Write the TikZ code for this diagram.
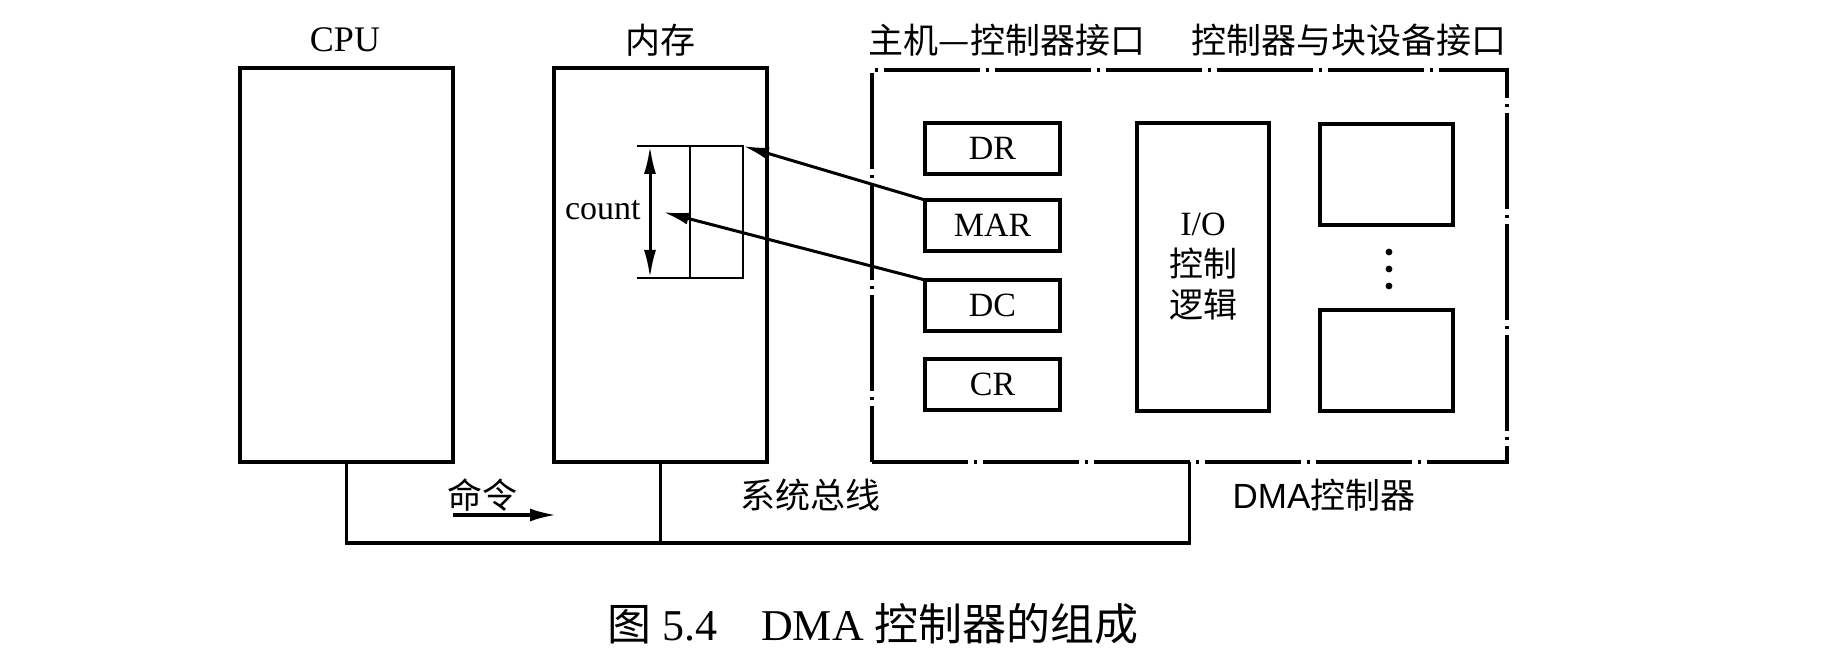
\documentclass[tikz,border=0pt]{standalone}
\usepackage{fontspec}
\setmainfont{Liberation Serif}
\newfontfamily\cjk{Noto Sans CJK SC}
\newfontfamily\sansf{Liberation Sans}
\usetikzlibrary{arrows.meta}
\begin{document}
\begin{tikzpicture}[x=0.5pt,y=-0.5pt,
  bigbox/.style={draw, line width=2.2pt, inner sep=0pt, outer sep=0pt},
  regbox/.style={draw, line width=1.9pt, inner sep=0pt, outer sep=0pt, minimum width=67.5pt, minimum height=25.5pt, font=\fontsize{17}{20}\selectfont},
  dmabox/.style={draw, line width=1.6pt, inner sep=0pt, outer sep=0pt, dash pattern=on 48pt off 3pt on 1.5pt off 3pt},
  lbl/.style={inner sep=0pt, font=\fontsize{17.5}{21}\selectfont},
  busline/.style={line width=1.6pt},
  thin/.style={line width=1.4pt},
  arr/.style={line width=1.5pt, -{Latex[length=13pt,width=6pt]}},
  darr/.style={line width=1.5pt, {Latex[length=14pt,width=6pt]}-{Latex[length=14pt,width=6pt]}},
  cmdarr/.style={line width=1.6pt, -{Latex[length=13pt,width=6.5pt]}}
]
\useasboundingbox (0,0) rectangle (1822,656);

% main boxes
\node[bigbox, minimum width=106.5pt, minimum height=197pt] (cpu) at (346.5,265) {};
\node[bigbox, minimum width=106.5pt, minimum height=197pt] (mem) at (660.5,265) {};
\node[dmabox, minimum width=317.5pt, minimum height=196pt] (dma) at (1189.5,266) {};

% top labels
\node[lbl, font=\fontsize{18}{21}\selectfont] (cpulbl) at (345,40) {CPU};
\node[lbl] (memlbl) at (660,40) {\cjk 内存};
\node[lbl] (hostif) at (1007,40) {\cjk 主机—控制器接口};
\node[lbl] (devif) at (1349,40) {\cjk 控制器与块设备接口};

% registers
\node[regbox] (dr)  at (992.5,148.5) {DR};
\node[regbox] (mar) at (992.5,225.5) {MAR};
\node[regbox] (dc)  at (992.5,305.5) {DC};
\node[regbox] (cr)  at (992.5,384.5) {CR};

% I/O control logic
\node[regbox, minimum width=66pt, minimum height=144pt, align=center,
      font=\fontsize{17}{20.5}\selectfont] (io) at (1203,267) {I/O\\{\cjk 控制}\\{\cjk 逻辑}};

% device boxes
\node[regbox, minimum width=66.5pt, minimum height=50.5pt] (dev1) at (1386.5,174.5) {};
\node[regbox, minimum width=66.5pt, minimum height=50.5pt] (dev2) at (1386.5,360.5) {};
\fill (1389,252) circle (1.7pt) (1389,269) circle (1.7pt) (1389,286) circle (1.7pt);

% memory cell with count
\node[draw, thin, inner sep=0pt, outer sep=0pt, minimum width=26.5pt, minimum height=66pt] (cell) at (716.5,212) {};
\coordinate (ctop) at (637,146);
\coordinate (cbot) at (637,278);
\draw[thin] (cell.north west) -- (ctop);
\draw[thin] (cell.south west) -- (cbot);
\coordinate (atop) at (650,146);
\coordinate (abot) at (650,278);
\draw[darr] (atop) -- (abot);
\node[lbl, anchor=east, font=\fontsize{17}{20}\selectfont] (count) at (641,210) {count};
\coordinate (ctip) at (663,212);

% pointer arrows
\draw[arr] (mar.north west) -- (cell.north east);
\draw[arr] (dc.north west) -- (ctip);

% system bus
\coordinate (busy) at (0,543);
\draw[busline] (cpu.south) -- (cpu.south |- busy) -| (dma.south);
\draw[busline] (mem.south) -- (mem.south |- busy);

% bus labels
\node[lbl] (cmd) at (482,495) {\cjk 命令};
\coordinate (cmdA) at (453,515);
\coordinate (cmdB) at (556,515);
\draw[cmdarr] (cmdA) -- (cmdB);
\node[lbl] (sysbus) at (810,495) {\cjk 系统总线};
\node[lbl] (dmalbl) at (1324,495) {{\sansf DMA}\cjk 控制器};

% caption
\node[lbl, font=\fontsize{22}{26}\selectfont] (cap) at (873,624) {{\cjk 图} 5.4\quad DMA {\cjk 控制器的组成}};
\end{tikzpicture}
\end{document}
